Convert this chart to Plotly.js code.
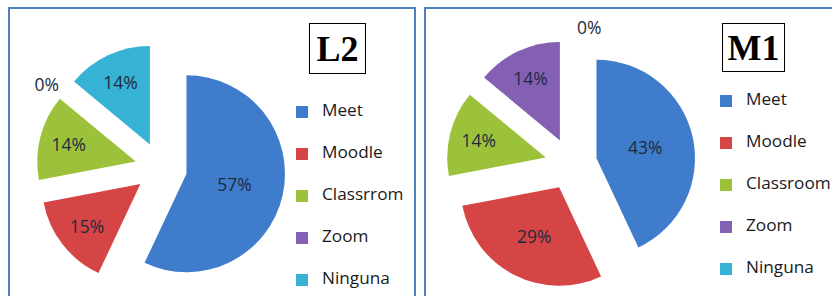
<!DOCTYPE html>
<html>
<head>
<meta charset="utf-8">
<script src="https://cdn.plot.ly/plotly-3.0.1.min.js"></script>
<style>html,body{margin:0;padding:0;background:#fff;}#chart{width:832px;height:296px;}</style>
</head>
<body>
<div id="chart"></div>
<script>
// ---- data ----
const panelTitles = ['L2', 'M1'];
const labelsL2 = ['Meet', 'Moodle', 'Classrrom', 'Zoom', 'Ninguna'];
const labelsM1 = ['Meet', 'Moodle', 'Classroom', 'Zoom', 'Ninguna'];
const valuesL2 = [57, 15, 14, 0, 14];
const valuesM1 = [43, 29, 14, 14, 0];
const sliceColors = ['#3f7dcc', '#d64545', '#9cc23c', '#8460b4', '#36b3d4'];

// ---- styling helpers ----
const FONT = 'Open Sans, Lato, sans-serif';
const TXT = '#1e2a3c';
// pad lines give the legend rows their spacing; pad char keeps the two legends' items apart
function legendLabel(s, pad) {
  return pad + '<br><span style="font-size:17.2px">' + s + '</span><br>' + pad;
}
function textPos(vals) {
  return vals.map(v => v === 0 ? 'outside' : 'inside');
}

const pieL2 = {
  type: 'pie',
  labels: labelsL2.map(s => legendLabel(s, ' ')),
  values: valuesL2,
  sort: false,
  direction: 'clockwise',
  rotation: 0,
  pull: 0.265,
  marker: {colors: sliceColors, line: {width: 0}},
  textinfo: 'percent',
  textposition: textPos(valuesL2),
  insidetextorientation: 'horizontal',
  textfont: {family: FONT, size: 17.5, color: TXT},
  insidetextfont: {family: FONT, size: 17.5, color: TXT},
  outsidetextfont: {family: FONT, size: 17.5, color: TXT},
  domain: {x: [0.04375, 0.3433], y: [0.0115, 0.8534]},
  legend: 'legend',
  hoverinfo: 'label+percent'
};
const pieM1 = Object.assign({}, pieL2, {
  labels: labelsM1.map(s => legendLabel(s, '\u00a0')),
  values: valuesM1,
  textposition: textPos(valuesM1),
  domain: {x: [0.5365, 0.8361], y: [0.025, 0.8669]},
  legend: 'legend2'
});

const legendBase = {
  font: {family: FONT, size: 10, color: '#1a1a1a'},
  bgcolor: 'rgba(0,0,0,0)',
  borderwidth: 0,
  xanchor: 'left',
  yanchor: 'top',
  valign: 'middle',
  itemclick: false,
  itemdoubleclick: false
};

const borderColor = '#4f81bd';
const layout = {
  width: 832,
  height: 296,
  margin: {l: 0, r: 0, t: 0, b: 0, autoexpand: false},
  paper_bgcolor: '#ffffff',
  plot_bgcolor: '#ffffff',
  showlegend: true,
  legend: Object.assign({}, legendBase, {x: 282 / 832, y: 1 - 86 / 296}),
  legend2: Object.assign({}, legendBase, {x: 706 / 832, y: 1 - 75 / 296}),
  shapes: [
    {type: 'rect', xref: 'paper', yref: 'paper', x0: 9 / 832, x1: 415 / 832, y0: -0.2, y1: 1 - 8 / 296,
     line: {color: borderColor, width: 2}, fillcolor: 'rgba(0,0,0,0)', layer: 'below'},
    {type: 'rect', xref: 'paper', yref: 'paper', x0: 425 / 832, x1: 1.1, y0: -0.2, y1: 1 - 8 / 296,
     line: {color: borderColor, width: 2}, fillcolor: 'rgba(0,0,0,0)', layer: 'below'}
  ],
  annotations: [
    {text: panelTitles[0], xref: 'paper', yref: 'paper', x: 337 / 832, y: 1 - 48 / 296,
     xanchor: 'center', yanchor: 'middle', showarrow: false, width: 55, height: 49, borderpad: 0,
     bordercolor: '#000', borderwidth: 1, bgcolor: '#fff',
     font: {family: 'Liberation Serif, Times New Roman, serif', size: 36, weight: 'bold', color: '#000'}},
    {text: panelTitles[1], xref: 'paper', yref: 'paper', x: 753 / 832, y: 1 - 47 / 296,
     xanchor: 'center', yanchor: 'middle', showarrow: false, width: 61, height: 47, borderpad: 0,
     bordercolor: '#000', borderwidth: 1, bgcolor: '#fff',
     font: {family: 'Liberation Serif, Times New Roman, serif', size: 36, weight: 'bold', color: '#000'}}
  ]
};

Plotly.newPlot('chart', [pieL2, pieM1], layout, {staticPlot: true, displayModeBar: false});
</script>
</body>
</html>
